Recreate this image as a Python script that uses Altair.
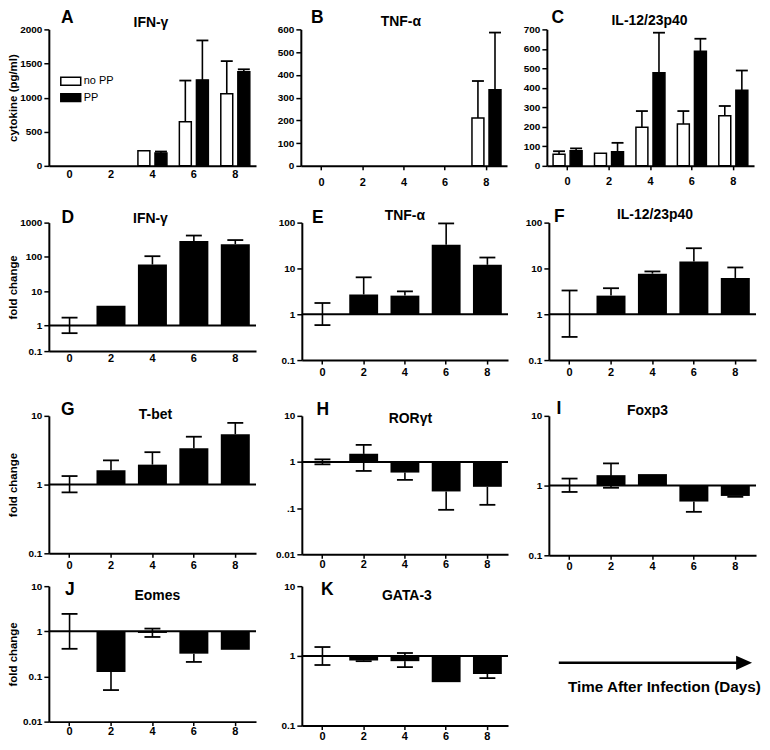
import altair as alt
import pandas as pd

FONT = "Liberation Sans"
DAYS = ["0", "2", "4", "6", "8"]
GROUPS = ["no PP", "PP"]
GROUP_FILL = ["white", "black"]

# ---------- cytokine (pg/ml) panels: bar value and top of error bar ----------
A_NOPP = [0, 0, 222, 645, 1058]
A_NOPP_ERR = [None, None, None, 1250, 1535]
A_PP = [0, 0, 190, 1260, 1380]
A_PP_ERR = [None, None, 210, 1838, 1415]
A_TICKS = [0, 500, 1000, 1500, 2000]

B_NOPP = [0, 0, 0, 0, 210]
B_NOPP_ERR = [None, None, None, None, 373]
B_PP = [0, 0, 0, 0, 335]
B_PP_ERR = [None, None, None, None, 586]
B_TICKS = [0, 100, 200, 300, 400, 500, 600]

C_NOPP = [60, 65, 198, 215, 257]
C_NOPP_ERR = [75, None, 281, 281, 307]
C_PP = [78, 72, 478, 588, 388]
C_PP_ERR = [90, 118, 683, 652, 489]
C_TICKS = [0, 100, 200, 300, 400, 500, 600, 700]

# ---------- fold change panels: mean, upper error end, lower error end ----------
D_VAL = [1, 3.8, 60, 290, 235]
D_HI = [1.7, None, 105, 420, 310]
D_LO = [0.6, None, None, None, None]
D_TICKS = [0.18, 1, 10, 100, 1000]
D_LABELS = ["0.1", "1", "10", "100", "1000"]

E_VAL = [1, 2.7, 2.55, 32.7, 12]
E_HI = [1.76, 6.4, 3.16, 96, 17.3]
E_LO = [0.58, None, None, None, None]
E_TICKS = [0.1, 1, 10, 100]
E_LABELS = ["0.1", "1", "10", "100"]

F_VAL = [1, 2.55, 7.7, 14.2, 6.2]
F_HI = [3.3, 3.7, 8.6, 27.6, 10.5]
F_LO = [0.32, None, None, None, None]

G_VAL = [1, 1.62, 1.95, 3.38, 5.4]
G_HI = [1.33, 2.25, 2.96, 4.97, 7.9]
G_LO = [0.77, None, None, None, None]
G_TICKS = [0.1, 1, 10]
G_LABELS = ["0.1", "1", "10"]

H_VAL = [1, 1.5, 0.59, 0.23, 0.29]
H_HI = [1.14, 2.35, None, None, None]
H_LO = [0.89, 0.64, 0.41, 0.092, 0.118]
H_TICKS = [0.01, 0.1, 1, 10]
H_LABELS = ["0.01", ".1", "1", "10"]

I_VAL = [1, 1.41, 1.46, 0.59, 0.71]
I_HI = [1.26, 2.08, None, None, None]
I_LO = [0.81, 0.93, None, 0.42, 0.69]

J_VAL = [1, 0.126, 0.92, 0.32, 0.39]
J_HI = [2.43, None, 1.15, None, None]
J_LO = [0.41, 0.05, 0.75, 0.21, None]
J_TICKS = [0.01, 0.1, 1, 10]
J_LABELS = ["0.01", "0.1", "1", "10"]

K_VAL = [1, 0.86, 0.84, 0.42, 0.55]
K_HI = [1.34, None, 1.1, None, None]
K_LO = [0.74, 0.84, 0.69, None, 0.48]

ARROW_TEXT = "Time After Infection (Days)"

ONE = pd.DataFrame({"k": [0]})


def label_expr(vals, labs):
    expr = "''"
    for v, l in reversed(list(zip(vals, labs))):
        expr = f"abs(datum.value - {v}) < {v * 0.01} ? '{l}' : ({expr})"
    return expr


def x_enc(xpad, xticks):
    return alt.X("day:N", sort=DAYS,
                 scale=alt.Scale(domain=DAYS, paddingInner=0.3, paddingOuter=0.15),
                 axis=alt.Axis(title=None, labelAngle=0, labelFontSize=11, ticks=xticks,
                               tickSize=4, labelPadding=xpad, minExtent=20, maxExtent=20))


def y_axis(ext, title, values, lexpr=None, fmt=None):
    kw = dict(values=values, tickSize=5, labelPadding=2, labelFontSize=10,
              minExtent=ext, maxExtent=ext, title=title)
    if title:
        kw.update(titleFontSize=11.5, titlePadding=2)
    if lexpr:
        kw["labelExpr"] = lexpr
    if fmt:
        kw["format"] = fmt
    return alt.Axis(**kw)


def annotations(letter, lxy, name, txy, top_space):
    letter_l = alt.Chart(ONE).mark_text(text=letter, font=FONT, fontSize=17.5, fontWeight="bold",
                                        color="black").encode(x=alt.value(lxy[0]), y=alt.value(lxy[1]))
    title_l = alt.Chart(ONE).mark_text(text=name, font=FONT, fontSize=14, fontWeight="bold",
                                       color="black").encode(x=alt.value(txy[0]), y=alt.value(txy[1]))
    spacer = alt.Chart(ONE).mark_text(text=".", fontSize=1, baseline="top", opacity=0).encode(
        x=alt.value(0), y=alt.value(-top_space))
    return [letter_l, title_l, spacer]


def grouped_panel(letter, name, nopp, nopp_err, pp, pp_err, ticks, width, height, ytitle, ext,
                  lxy, txy, xpad, xticks, top_space, legend=False):
    rows = []
    for g, vs, es in ((GROUPS[0], nopp, nopp_err), (GROUPS[1], pp, pp_err)):
        for d, v, e in zip(DAYS, vs, es):
            rows.append({"day": d, "grp": g, "v": v, "e": e})
    df = pd.DataFrame(rows)
    bars = df[df.v > 0][["day", "grp", "v"]]
    errs = df[df.e.notna()].copy()
    errs["e"] = errs["e"].astype(float)
    yscale = alt.Scale(domain=[ticks[0], ticks[-1]], nice=False)
    yax = y_axis(ext, ytitle, ticks, fmt="d")
    X = x_enc(xpad, xticks)
    XO = alt.XOffset("grp:N", scale=alt.Scale(domain=GROUPS, paddingInner=0.3))
    bar_l = alt.Chart(bars).mark_bar(stroke="black", strokeWidth=1.5).encode(
        x=X, xOffset=XO, y=alt.Y("v:Q", scale=yscale, axis=yax),
        fill=alt.Fill("grp:N", scale=alt.Scale(domain=GROUPS, range=GROUP_FILL), legend=None))
    err_l = alt.Chart(errs).mark_rule(color="black", strokeWidth=1.6).encode(
        x=X, xOffset=XO, y=alt.Y("v:Q", scale=yscale, axis=yax), y2="e:Q")
    cap_l = alt.Chart(errs).mark_tick(color="black", thickness=1.8, size=12, opacity=1,
                                      orient="horizontal").encode(
        x=X, xOffset=XO, y=alt.Y("e:Q", scale=yscale, axis=yax))
    layers = [bar_l, err_l, cap_l] + annotations(letter, lxy, name, txy, top_space)
    if legend:
        for lab, col, cy in zip(GROUPS, GROUP_FILL, [52, 68.5]):
            layers.append(alt.Chart(ONE).mark_rect(fill=col, stroke="black", strokeWidth=1.5).encode(
                x=alt.value(12), x2=alt.value(32), y=alt.value(cy - 4), y2=alt.value(cy + 4)))
            layers.append(alt.Chart(ONE).mark_text(text=lab, align="left", font=FONT, fontSize=11,
                                                   color="black").encode(x=alt.value(35), y=alt.value(cy)))
    return alt.layer(*layers).properties(width=width, height=height)


def log_panel(letter, name, vals, hi, lo, domain, ticks, labels, width, height, ytitle, ext,
              lxy, txy, xpad, xticks, top_space):
    bars = pd.DataFrame({"day": DAYS, "v": vals, "base": [1.0] * len(DAYS)})
    bars = bars[bars.v != 1]
    segs = []
    for d, v, h, l in zip(DAYS, vals, hi, lo):
        if h is not None:
            segs.append({"day": d, "y": v, "end": h})
        if l is not None:
            segs.append({"day": d, "y": v, "end": l})
    segs = pd.DataFrame(segs)
    yscale = alt.Scale(type="log", domain=domain, nice=False)
    yax = y_axis(ext, ytitle, ticks, lexpr=label_expr(ticks, labels))
    X = x_enc(xpad, xticks)
    bar_l = alt.Chart(bars).mark_bar(color="black").encode(
        x=X, y=alt.Y("v:Q", scale=yscale, axis=yax), y2="base:Q")
    base_l = alt.Chart(ONE).mark_rule(color="black", strokeWidth=2).encode(y=alt.datum(1))
    err_l = alt.Chart(segs).mark_rule(color="black", strokeWidth=1.6).encode(
        x=X, y=alt.Y("y:Q", scale=yscale, axis=yax), y2="end:Q")
    cap_l = alt.Chart(segs).mark_tick(color="black", thickness=1.8, size=16, opacity=1,
                                      orient="horizontal").encode(
        x=X, y=alt.Y("end:Q", scale=yscale, axis=yax))
    layers = [bar_l, base_l, err_l, cap_l] + annotations(letter, lxy, name, txy, top_space)
    return alt.layer(*layers).properties(width=width, height=height)


A = grouped_panel("A", "IFN-γ", A_NOPP, A_NOPP_ERR, A_PP, A_PP_ERR, A_TICKS, 208, 137,
                  "cytokine (pg/ml)", 28, (18.5, -11), (102.5, -6.5), 3, False, 19, legend=True)
B = grouped_panel("B", "TNF-α", B_NOPP, B_NOPP_ERR, B_PP, B_PP_ERR, B_TICKS, 207, 137,
                  None, 30, (16.5, -11), (100.5, -7), 6.5, True, 19)
C = grouped_panel("C", "IL-12/23p40", C_NOPP, C_NOPP_ERR, C_PP, C_PP_ERR, C_TICKS, 208, 137,
                  None, 25, (11, -11), (103, -8), 5.7, True, 19)

D = log_panel("D", "IFN-γ", D_VAL, D_HI, D_LO, [D_TICKS[0], D_TICKS[-1]], D_TICKS, D_LABELS,
              208, 129, "fold change", 28, (19, -4.3), (102, -4), 1, False, 35)
E = log_panel("E", "TNF-α", E_VAL, E_HI, E_LO, [0.1, 100], E_TICKS, E_LABELS,
              207, 138, None, 30, (16, -4.3), (103.5, -6.5), 2.4, True, 35)
F = log_panel("F", "IL-12/23p40", F_VAL, F_HI, F_LO, [0.1, 100], E_TICKS, E_LABELS,
              208, 138, None, 25, (10.5, -6), (106.5, -7.5), 2.7, True, 35)

G = log_panel("G", "T-bet", G_VAL, G_HI, G_LO, [0.1, 10], G_TICKS, G_LABELS,
              208, 138, "fold change", 28, (19, -5.7), (107, -0.5), 2.3, True, 36)
H = log_panel("H", "RORγt", H_VAL, H_HI, H_LO, [0.01, 10], H_TICKS, H_LABELS,
              207, 139, None, 30, (21, -5.7), (109, 3), 0, True, 36)
I = log_panel("I", "Foxp3", I_VAL, I_HI, I_LO, [0.1, 10], G_TICKS, G_LABELS,
              208, 140, None, 25, (10, -7), (99, -5), 1, True, 36)

J = log_panel("J", "Eomes", J_VAL, J_HI, J_LO, [0.01, 10], J_TICKS, J_LABELS,
              208, 136, "fold change", 28, (21, 4), (109, 10), 0, True, 11)
K = log_panel("K", "GATA-3", K_VAL, K_HI, K_LO, [0.1, 10], G_TICKS, G_LABELS,
              207, 140, None, 30, (25.5, 3.5), (105.5, 10), 1, True, 11)

ARROW = alt.layer(
    alt.Chart(ONE).mark_rule(color="black", strokeWidth=2.5).encode(
        x=alt.value(34), x2=alt.value(214), y=alt.value(77)),
    alt.Chart(ONE).mark_point(shape="M-1,-0.9L1,0L-1,0.9Z", filled=True, size=256,
                              color="black", opacity=1).encode(x=alt.value(220), y=alt.value(77)),
    alt.Chart(ONE).mark_text(text=ARROW_TEXT, font=FONT, fontSize=15.3, fontWeight="bold",
                             color="black").encode(x=alt.value(140), y=alt.value(101)),
    alt.Chart(ONE).mark_text(text=".", fontSize=1, baseline="top", opacity=0).encode(
        x=alt.value(0), y=alt.value(-11)),
).properties(width=233, height=138)

row1 = alt.hconcat(A, B, C, spacing=15)
row2 = alt.hconcat(D, E, F, spacing=15)
row3 = alt.hconcat(G, H, I, spacing=15)
row4 = alt.hconcat(J, K, ARROW, spacing=15)

chart = alt.vconcat(row1, row2, row3, row4, spacing=0).properties(
    padding={"left": 0, "top": 0, "right": 0, "bottom": 0}
).configure_view(strokeWidth=0).configure_axis(
    domainColor="black", domainWidth=2, tickColor="black", tickWidth=1.5,
    labelColor="black", labelFont=FONT, labelFontWeight="bold",
    titleFont=FONT, titleFontWeight="bold", titleColor="black", grid=False
)

chart.save("out.html", embed_options={"renderer": "svg", "actions": False})
